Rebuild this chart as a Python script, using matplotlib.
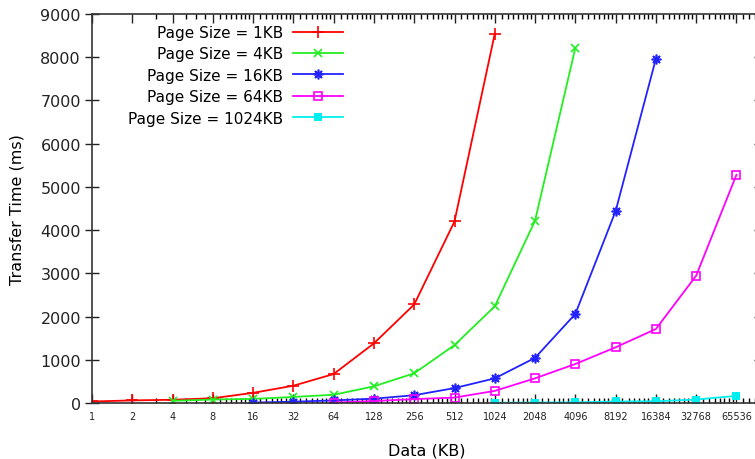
import numpy as np
import matplotlib
matplotlib.use("Agg")
import matplotlib.pyplot as plt
import matplotlib.ticker as mticker

# data (transfer time in ms)
x_1kb = [1, 2, 4, 8, 16, 32, 64, 128, 256, 512, 1024]
y_1kb = [35, 60, 75, 110, 235, 400, 670, 1380, 2280, 4200, 8545]

x_4kb = [4, 8, 16, 32, 64, 128, 256, 512, 1024, 2048, 4096]
y_4kb = [50, 80, 95, 140, 190, 386, 687, 1340, 2237, 4218, 8215]

x_16kb = [16, 32, 64, 128, 256, 512, 1024, 2048, 4096, 8192, 16384]
y_16kb = [10, 30, 60, 100, 180, 345, 570, 1045, 2060, 4440, 7965]

x_64kb = [64, 128, 256, 512, 1024, 2048, 4096, 8192, 16384, 32768, 65536]
y_64kb = [10, 45, 90, 125, 280, 571, 902, 1288, 1712, 2946, 5280]

x_1024kb = [1024, 2048, 4096, 8192, 16384, 32768, 65536]
y_1024kb = [5, 10, 15, 35, 40, 80, 165]

labels = ["Page Size = 1KB", "Page Size = 4KB", "Page Size = 16KB",
          "Page Size = 64KB", "Page Size = 1024KB"]
xtick_vals = [2 ** i for i in range(17)]
ytick_vals = list(range(0, 9001, 1000))

fig = plt.figure(figsize=(7.55, 4.6), dpi=100)
ax = fig.add_axes([92 / 755, 56 / 460, (761 - 92) / 755, (404 - 15) / 460])

lw = 1.3
ax.plot(x_1kb, y_1kb, color="#ff0000", lw=lw, marker="+", ms=8, mew=1.2, label=labels[0])
ax.plot(x_4kb, y_4kb, color="#22ee22", lw=lw, marker="x", ms=6, mew=1.2, label=labels[1])
ax.plot(x_16kb, y_16kb, color="#2222ff", lw=lw, marker=(8, 2, 0), ms=7, mew=1.2, label=labels[2])
ax.plot(x_64kb, y_64kb, color="#ff00ff", lw=lw, marker="s", ms=5.5, mew=1.2,
        mfc="none", label=labels[3])
ax.plot(x_1024kb, y_1024kb, color="#00eeee", lw=lw, marker="s", ms=6, mew=0, label=labels[4])

ax.set_xscale("log", base=2)
ax.set_xlim(1, 100000)
ax.set_ylim(0, 9000)

ax.xaxis.set_major_locator(mticker.FixedLocator(xtick_vals))
ax.xaxis.set_major_formatter(mticker.FixedFormatter([str(v) for v in xtick_vals]))
minor = [3, 5, 6, 7]
for n in range(3, 17):
    minor += [2 ** n * (1 + k / 8) for k in range(1, 8)]
ax.xaxis.set_minor_locator(mticker.FixedLocator(minor))
ax.xaxis.set_minor_formatter(mticker.NullFormatter())
ax.set_yticks(ytick_vals)
ax.yaxis.set_minor_locator(mticker.NullLocator())

ax.tick_params(axis="x", which="major", direction="in", length=6.5, width=1,
               top=True, labelsize=7, pad=6, colors="#222222")
ax.tick_params(axis="x", which="minor", direction="in", length=3.5, width=1, top=True)
ax.tick_params(axis="y", which="major", direction="inout", length=10, width=1,
               right=True, labelsize=11.5, pad=3, colors="#222222")
for s in ax.spines.values():
    s.set_linewidth(1.2)
    s.set_color("#333333")

ax.set_xlabel("Data (KB)", fontsize=11.5, labelpad=15)
ax.set_ylabel("Transfer Time (ms)", fontsize=11.5, labelpad=11)

ax.legend(loc="upper right", bbox_to_anchor=(343 / 755, 1 - 26 / 460),
          bbox_transform=fig.transFigure, markerfirst=False, frameon=False,
          fontsize=11, handlelength=3.3, handletextpad=0.6, labelspacing=0.42,
          borderpad=0, borderaxespad=0)

fig.savefig("out.png", dpi=100)
